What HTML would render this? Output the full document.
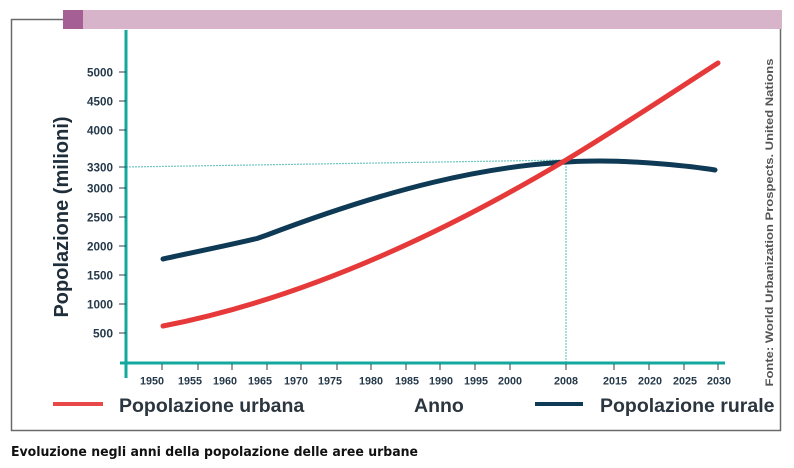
<!DOCTYPE html>
<html><head><meta charset="utf-8"><style>
html,body{margin:0;padding:0;background:#fff;}
svg{display:block;}
</style></head><body>
<svg width="794" height="468" viewBox="0 0 794 468" xmlns="http://www.w3.org/2000/svg">
<rect width="794" height="468" fill="#fff"/>
<!-- frame -->
<polyline points="63,19.5 11.5,19.5 11.5,430.5 780.5,430.5 780.5,29" fill="none" stroke="#6a6a6a" stroke-width="1.5"/>
<!-- header bar -->
<rect x="63" y="10" width="719" height="19" fill="#d7b4ca"/>
<rect x="63" y="10" width="20" height="19" fill="#a65f95"/>

<!-- dotted guide lines -->
<line x1="126" y1="167" x2="566" y2="160" stroke="#6cc8c0" stroke-width="1.2" stroke-dasharray="2 1"/>
<line x1="566" y1="160" x2="566" y2="363" stroke="#6cc8c0" stroke-width="1.2" stroke-dasharray="2 1"/>

<!-- axes -->
<line x1="126" y1="30" x2="126" y2="378" stroke="#12a89d" stroke-width="3"/>
<line x1="120" y1="363" x2="725" y2="363" stroke="#12a89d" stroke-width="3"/>

<!-- y ticks -->
<g stroke="#2a4050" stroke-width="1">
<line x1="119" y1="72" x2="126" y2="72"/>
<line x1="119" y1="101" x2="126" y2="101"/>
<line x1="119" y1="130" x2="126" y2="130"/>
<line x1="119" y1="167" x2="126" y2="167"/>
<line x1="119" y1="188" x2="126" y2="188"/>
<line x1="119" y1="217" x2="126" y2="217"/>
<line x1="119" y1="246" x2="126" y2="246"/>
<line x1="119" y1="275" x2="126" y2="275"/>
<line x1="119" y1="304" x2="126" y2="304"/>
<line x1="119" y1="333" x2="126" y2="333"/>
</g>
<g font-family="Liberation Sans, sans-serif" font-weight="bold" font-size="12" fill="#25394a" text-anchor="end">
<text x="113" y="76.5" textLength="26" lengthAdjust="spacingAndGlyphs">5000</text>
<text x="113" y="105.5" textLength="26" lengthAdjust="spacingAndGlyphs">4500</text>
<text x="113" y="134.5" textLength="26" lengthAdjust="spacingAndGlyphs">4000</text>
<text x="113" y="171.5" textLength="26" lengthAdjust="spacingAndGlyphs">3300</text>
<text x="113" y="192.5" textLength="26" lengthAdjust="spacingAndGlyphs">3000</text>
<text x="113" y="221.5" textLength="26" lengthAdjust="spacingAndGlyphs">2500</text>
<text x="113" y="250.5" textLength="26" lengthAdjust="spacingAndGlyphs">2000</text>
<text x="113" y="279.5" textLength="26" lengthAdjust="spacingAndGlyphs">1500</text>
<text x="113" y="308.5" textLength="26" lengthAdjust="spacingAndGlyphs">1000</text>
<text x="113" y="337.5" textLength="20" lengthAdjust="spacingAndGlyphs">500</text>
</g>

<!-- x ticks -->
<g stroke="#2a4050" stroke-width="1">
<line x1="162" y1="364" x2="162" y2="370"/>
<line x1="198" y1="364" x2="198" y2="370"/>
<line x1="232" y1="364" x2="232" y2="370"/>
<line x1="267" y1="364" x2="267" y2="370"/>
<line x1="301" y1="364" x2="301" y2="370"/>
<line x1="337" y1="364" x2="337" y2="370"/>
<line x1="371" y1="364" x2="371" y2="370"/>
<line x1="406" y1="364" x2="406" y2="370"/>
<line x1="440" y1="364" x2="440" y2="370"/>
<line x1="475" y1="364" x2="475" y2="370"/>
<line x1="510" y1="364" x2="510" y2="370"/>
<line x1="566" y1="364" x2="566" y2="370"/>
<line x1="614" y1="364" x2="614" y2="370"/>
<line x1="649" y1="364" x2="649" y2="370"/>
<line x1="684" y1="364" x2="684" y2="370"/>
<line x1="718" y1="364" x2="718" y2="370"/>
</g>
<g font-family="Liberation Sans, sans-serif" font-weight="bold" font-size="11" fill="#25394a" text-anchor="middle">
<text x="152" y="384.5" textLength="24" lengthAdjust="spacingAndGlyphs">1950</text>
<text x="190" y="384.5" textLength="24" lengthAdjust="spacingAndGlyphs">1955</text>
<text x="225" y="384.5" textLength="24" lengthAdjust="spacingAndGlyphs">1960</text>
<text x="260" y="384.5" textLength="24" lengthAdjust="spacingAndGlyphs">1965</text>
<text x="296" y="384.5" textLength="24" lengthAdjust="spacingAndGlyphs">1970</text>
<text x="330" y="384.5" textLength="24" lengthAdjust="spacingAndGlyphs">1975</text>
<text x="371" y="384.5" textLength="24" lengthAdjust="spacingAndGlyphs">1980</text>
<text x="407" y="384.5" textLength="24" lengthAdjust="spacingAndGlyphs">1985</text>
<text x="441" y="384.5" textLength="24" lengthAdjust="spacingAndGlyphs">1990</text>
<text x="476" y="384.5" textLength="24" lengthAdjust="spacingAndGlyphs">1995</text>
<text x="510" y="384.5" textLength="24" lengthAdjust="spacingAndGlyphs">2000</text>
<text x="566" y="384.5" textLength="24" lengthAdjust="spacingAndGlyphs">2008</text>
<text x="615" y="384.5" textLength="24" lengthAdjust="spacingAndGlyphs">2015</text>
<text x="650" y="384.5" textLength="24" lengthAdjust="spacingAndGlyphs">2020</text>
<text x="685" y="384.5" textLength="24" lengthAdjust="spacingAndGlyphs">2025</text>
<text x="719" y="384.5" textLength="24" lengthAdjust="spacingAndGlyphs">2030</text>
</g>

<!-- series -->
<path fill="none" stroke="#0e3a55" stroke-width="5" stroke-linejoin="round" stroke-linecap="round"
d="M163,259 C190,253 230,245 257,238.5 L267,235 C378,193 489,161 600,161 C640,161 690,166 715,170"/>
<path fill="none" stroke="#e63a3a" stroke-width="5" stroke-linejoin="round" stroke-linecap="round"
d="M163,326 C297,300 432,240 566,160 C616,130 670,94 718,63"/>

<!-- axis title -->
<text transform="translate(68,217) rotate(-90)" text-anchor="middle" font-family="Liberation Sans, sans-serif" font-weight="bold" font-size="20" fill="#1f2e3b">Popolazione (milioni)</text>

<!-- source -->
<text transform="translate(773,222.5) rotate(-90)" text-anchor="middle" font-family="Liberation Sans, sans-serif" font-weight="bold" font-size="11" fill="#555" textLength="328" lengthAdjust="spacingAndGlyphs">Fonte: World Urbanization Prospects. United Nations</text>

<!-- legend -->
<line x1="53" y1="404" x2="103" y2="404" stroke="#e84848" stroke-width="4"/>
<line x1="535" y1="404" x2="583" y2="404" stroke="#0e3a55" stroke-width="4"/>
<g font-family="Liberation Sans, sans-serif" font-weight="bold" font-size="19.5" fill="#2b3640">
<text x="119" y="412">Popolazione urbana</text>
<text x="414" y="412">Anno</text>
<text x="600" y="412">Popolazione rurale</text>
</g>

<!-- caption -->
<text x="11" y="456" font-family="DejaVu Sans, sans-serif" font-weight="bold" font-size="13" fill="#111" textLength="407" lengthAdjust="spacingAndGlyphs">Evoluzione negli anni della popolazione delle aree urbane</text>
</svg>
</body></html>
